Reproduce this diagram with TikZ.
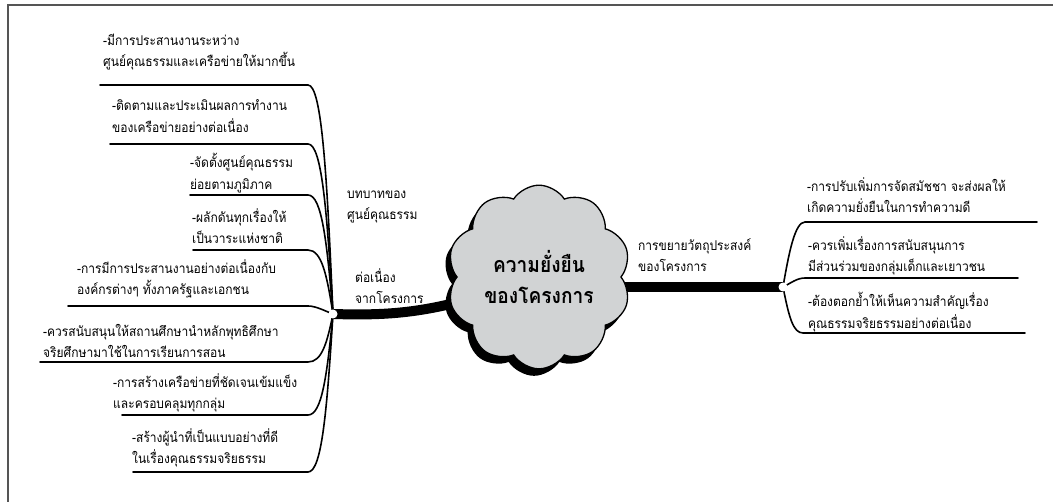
\documentclass[tikz,border=0pt]{standalone}
\usepackage{fontspec}
\newfontfamily\thaifont[Script=Thai,FakeStretch=0.89]{Loma}
\usetikzlibrary{shapes.symbols,shadows,backgrounds}
\definecolor{cloudgray}{HTML}{D1D3D4}
\definecolor{framegray}{HTML}{555555}
\begin{document}
\begin{tikzpicture}[x=1pt,y=-1pt,
  leaf/.style={anchor=west,align=left,inner sep=0pt,font=\thaifont\fontsize{13.5}{21.5}\selectfont},
  twig/.style={line width=1.6pt,line cap=round},
  trunk/.style={line width=10pt},
  core/.style={cloud,cloud puffs=10,cloud puff arc=115,aspect=1,draw,line width=1.3pt,
    fill=cloudgray,minimum width=152pt,minimum height=152pt,align=center,
    font=\thaifont\bfseries\fontsize{21.5}{32}\selectfont,
    drop shadow={shadow xshift=-5pt,shadow yshift=-7pt,fill=black,opacity=1}}]
\useasboundingbox (0,0) rectangle (1053,502);
\draw[framegray,line width=1.5pt] (8,502) -- (8,5) -- (1053,5);

% hubs and centre
\coordinate (hubL) at (333,314);
\coordinate (hubR) at (783,287);
\coordinate (xr) at (308,0);
\node[core] (core) at (539,277) {ความยั่งยืน\\ของโครงการ};
\begin{pgfonlayer}{background}
\draw[trunk] (hubL) .. controls (400,316) and (440,312) .. (core.center);
\draw[trunk] (hubR) -- (hubR -| core.center);
\end{pgfonlayer}

% branch labels
\node[leaf] (roleL) at (347,207) {บทบาทของ\\ศูนย์คุณธรรม};
\node[leaf] (contL) at (355,286) {ต่อเนื่อง\\จากโครงการ};
\node[leaf] (goalR) at (638,255) {การขยายวัตถุประสงค์\\ของโครงการ};

% left leaves
\node[leaf] (l1) at (103,52) {-มีการประสานงานระหว่าง\\ศูนย์คุณธรรมและเครือข่ายให้มากขึ้น};
\node[leaf] (l2) at (112,116) {-ติดตามและประเมินผลการทำงาน\\ของเครือข่ายอย่างต่อเนื่อง};
\node[leaf] (l3) at (190,173) {-จัดตั้งศูนย์คุณธรรม\\ย่อยตามภูมิภาค};
\node[leaf] (l4) at (192,226) {-ผลักดันทุกเรื่องให้\\เป็นวาระแห่งชาติ};
\node[leaf] (l5) at (77,279) {-การมีการประสานงานอย่างต่อเนื่องกับ\\องค์กรต่างๆ ทั้งภาครัฐและเอกชน};
\node[leaf] (l6) at (43,341) {-ควรสนับสนุนให้สถานศึกษานำหลักพุทธิศึกษา\\จริยศึกษามาใช้ในการเรียนการสอน};
\node[leaf] (l7) at (113,393) {-การสร้างเครือข่ายที่ชัดเจนเข้มแข็ง\\และครอบคลุมทุกกลุ่ม};
\node[leaf] (l8) at (132,448) {-สร้างผู้นำที่เป็นแบบอย่างที่ดี\\ในเรื่องคุณธรรมจริยธรรม};
\coordinate (u1) at (100,85);
\coordinate (u2) at (110,144);
\coordinate (u3) at (190,195);
\coordinate (u4) at (193,250);
\coordinate (u5) at (68,306);
\coordinate (u6) at (40,362);
\coordinate (u7) at (122,415);
\coordinate (u8) at (133,472);
\draw[twig] (hubL) .. controls +(-6,-137) and +(14,0) .. (u1 -| xr) -- (u1);
\draw[twig] (hubL) .. controls +(-6,-102) and +(14,0) .. (u2 -| xr) -- (u2);
\draw[twig] (hubL) .. controls +(-6,-71) and +(14,0) .. (u3 -| xr) -- (u3);
\draw[twig] (hubL) .. controls +(-6,-38) and +(14,0) .. (u4 -| xr) -- (u4);
\draw[twig] (hubL) .. controls +(-8,-3) and +(8,0) .. (u5 -| xr) -- (u5);
\draw[twig] (hubL) .. controls +(-6,29) and +(14,0) .. (u6 -| xr) -- (u6);
\draw[twig] (hubL) .. controls +(-6,61) and +(14,0) .. (u7 -| xr) -- (u7);
\draw[twig] (hubL) .. controls +(-6,95) and +(14,0) .. (u8 -| xr) -- (u8);

% right leaves
\node[leaf] (r1) at (807,195) {-การปรับเพิ่มการจัดสมัชชา จะส่งผลให้\\เกิดความยั่งยืนในการทำความดี};
\node[leaf] (r2) at (808,256) {-ควรเพิ่มเรื่องการสนับสนุนการ\\มีส่วนร่วมของกลุ่มเด็กและเยาวชน};
\node[leaf] (r3) at (808,312) {-ต้องตอกย้ำให้เห็นความสำคัญเรื่อง\\คุณธรรมจริยธรรมอย่างต่อเนื่อง};
\coordinate (v1) at (805,222);
\coordinate (v2) at (805,278);
\coordinate (v3) at (803,333);
\draw[twig] (hubR) .. controls +(6,-35) and +(-10,0) .. (v1) -- +(232,0);
\draw[twig] (hubR) .. controls +(8,-4) and +(-8,0) .. (v2) -- +(213,0);
\draw[twig] (hubR) .. controls +(6,30) and +(-10,0) .. (v3) -- +(222,0);

\fill[white] (hubL) circle (4.5);
\fill[white] (hubR) circle (4.5);
\end{tikzpicture}
\end{document}
